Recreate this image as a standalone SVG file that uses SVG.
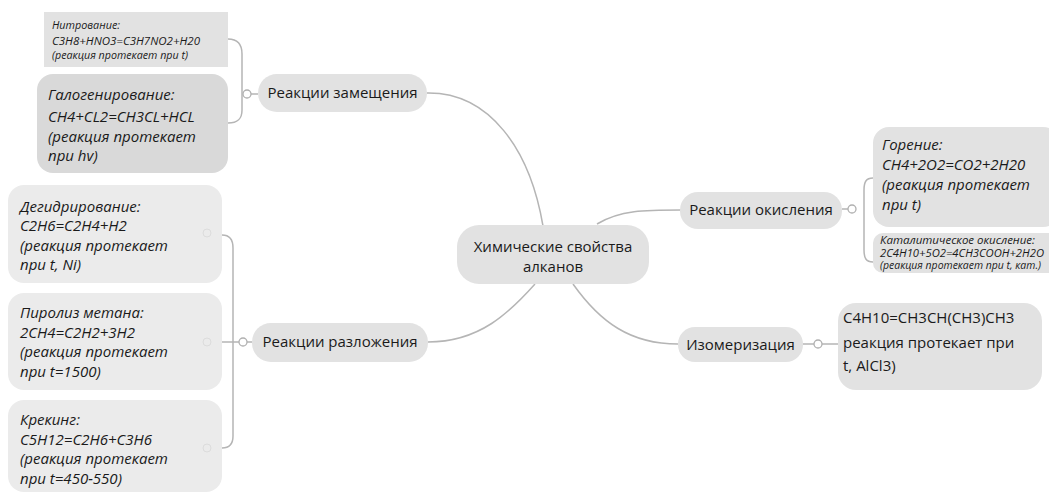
<svg xmlns="http://www.w3.org/2000/svg" width="1049" height="493" viewBox="0 0 1049 493">
<style>
.n{fill:#e2e2e2}
.l{fill:#ebebeb}
.d{fill:#d9d9d9}
.t{font-family:"Open Sans","Liberation Sans",sans-serif;font-size:15px;fill:#1a1a1a}
.i{font-style:italic}
.s{font-size:10.5px}
.c{fill:none;stroke:#b5b5b5;stroke-width:1.5}
.j{fill:#fff;stroke:#b0b0b0;stroke-width:1.3}
.f{fill:none;stroke:#dcdcdc;stroke-width:1}
</style>
<rect width="1049" height="493" fill="#fff"/>
<g id="connectors">
<path class="c" d="M427,93 C490,92 530,150 543,226"/>
<path class="c" d="M428,342 C480,342 510,312 535,284"/>
<path class="c" d="M597,224 C620,210 645,210 681,210"/>
<path class="c" d="M573,284 C600,322 630,344 678,344"/>
<path class="c" d="M228,39 C238,39 242,44 242,54 L242,110 C242,119 238,123 228,123"/>
<path class="c" d="M251,94 L258,94"/>
<path class="c" d="M222,235 C229,235 233,239 233,248 L233,436 C233,444 229,448 222,448 M222,342 L239,342 M247,342 L252,342"/>
<path class="c" d="M848,209 L842,209 M873,178 C866,178 864,182 864,190 L864,250 C864,258 866,262 873,262"/>
<path class="c" d="M803,344 L814,344 M822,344 L838,344"/>
<circle class="j" cx="247" cy="94" r="4"/>
<circle class="j" cx="243" cy="342" r="4"/>
<circle class="j" cx="852" cy="209" r="4"/>
<circle class="j" cx="818" cy="344" r="4"/>
</g>
<g id="center">
<rect class="n" x="457" y="225" width="192" height="59" rx="22"/>
<text class="t" x="553" y="252" text-anchor="middle">Химические свойства</text>
<text class="t" x="553" y="272" text-anchor="middle">алканов</text>
</g>
<g id="zamesh">
<rect class="n" x="258" y="74" width="169" height="38" rx="19"/>
<text class="t" x="342.5" y="98" text-anchor="middle">Реакции замещения</text>
</g>
<g id="nitro">
<rect class="n" x="44" y="12" width="184" height="55"/>
<text class="t i s" x="52" y="29" textLength="68" lengthAdjust="spacingAndGlyphs">Нитрование:</text>
<text class="t i s" x="52" y="45" textLength="148" lengthAdjust="spacingAndGlyphs">C3H8+HNO3=C3H7NO2+H20</text>
<text class="t i s" x="52" y="59" textLength="136" lengthAdjust="spacingAndGlyphs">(реакция протекает при t)</text>
</g>
<g id="galo">
<rect class="d" x="37" y="74" width="191" height="99" rx="16"/>
<text class="t i" x="48" y="100">Галогенирование:</text>
<text class="t i" x="48" y="122">CH4+CL2=CH3CL+HCL</text>
<text class="t i" x="48" y="142">(реакция протекает</text>
<text class="t i" x="48" y="161">при hv)</text>
</g>
<g id="razl">
<rect class="n" x="252" y="323" width="176" height="39" rx="19"/>
<text class="t" x="340" y="347" text-anchor="middle">Реакции разложения</text>
</g>
<g id="degidr">
<rect class="l" x="8" y="185" width="214" height="98" rx="16"/>
<circle class="f" cx="207" cy="233" r="4"/>
<text class="t i" x="20" y="212">Дегидрирование:</text>
<text class="t i" x="20" y="231">C2H6=C2H4+H2</text>
<text class="t i" x="20" y="251">(реакция протекает</text>
<text class="t i" x="20" y="270">при t, Ni)</text>
</g>
<g id="piroliz">
<rect class="l" x="8" y="293" width="214" height="97" rx="16"/>
<circle class="f" cx="207" cy="342" r="4"/>
<text class="t i" x="20" y="318">Пиролиз метана:</text>
<text class="t i" x="20" y="338">2CH4=C2H2+3H2</text>
<text class="t i" x="20" y="357">(реакция протекает</text>
<text class="t i" x="20" y="377">при t=1500)</text>
</g>
<g id="kreking">
<rect class="l" x="8" y="400" width="214" height="92" rx="16"/>
<circle class="f" cx="207" cy="448" r="4"/>
<text class="t i" x="20" y="425">Крекинг:</text>
<text class="t i" x="20" y="445">C5H12=C2H6+C3H6</text>
<text class="t i" x="20" y="464">(реакция протекает</text>
<text class="t i" x="20" y="484">при t=450-550)</text>
</g>
<g id="okisl">
<rect class="n" x="680" y="192" width="162" height="37" rx="18"/>
<text class="t" x="761" y="215" text-anchor="middle">Реакции окисления</text>
</g>
<g id="gorenie">
<rect class="n" x="873" y="127" width="186" height="100" rx="16"/>
<text class="t i" x="882" y="150">Горение:</text>
<text class="t i" x="882" y="170">CH4+2O2=CO2+2H20</text>
<text class="t i" x="882" y="190">(реакция протекает</text>
<text class="t i" x="882" y="210">при t)</text>
</g>
<g id="katal">
<rect class="n" x="873" y="233" width="186" height="40" rx="10"/>
<text class="t i s" x="880" y="244" textLength="155" lengthAdjust="spacingAndGlyphs">Каталитическое окисление:</text>
<text class="t i s" x="880" y="257" textLength="164" lengthAdjust="spacingAndGlyphs">2C4H10+5O2=4CH3COOH+2H2O</text>
<text class="t i s" x="880" y="269" textLength="161" lengthAdjust="spacingAndGlyphs">(реакция протекает при t, кат.)</text>
</g>
<g id="izomer">
<rect class="n" x="678" y="327" width="125" height="35" rx="17"/>
<text class="t" x="740.5" y="350" text-anchor="middle">Изомеризация</text>
</g>
<g id="c4h10">
<rect class="n" x="838" y="303" width="204" height="87" rx="18"/>
<text class="t" x="843" y="323">C4H10=CH3CH(CH3)CH3</text>
<text class="t" x="843" y="348">реакция протекает при</text>
<text class="t" x="843" y="371">t, AlCl3)</text>
</g>
</svg>
